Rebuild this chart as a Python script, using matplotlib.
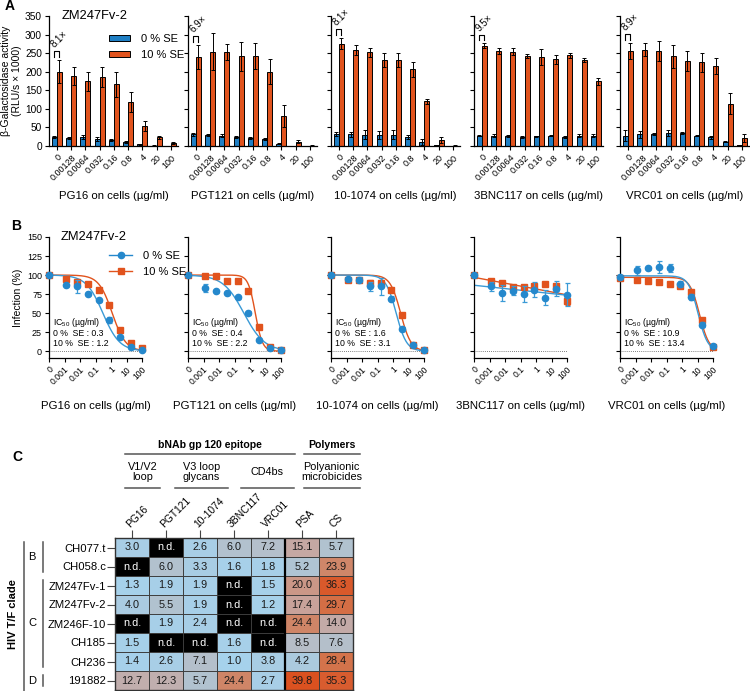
import numpy as np
import matplotlib
matplotlib.use("Agg")
import matplotlib.pyplot as plt
from matplotlib.lines import Line2D
from matplotlib.patches import Patch
from matplotlib.colors import LinearSegmentedColormap, LogNorm
import matplotlib.transforms as mtrans

plt.rcParams['font.family'] = ['Liberation Sans', 'DejaVu Sans']
plt.rcParams['mathtext.fontset'] = 'custom'
plt.rcParams['mathtext.rm'] = 'Liberation Sans'
plt.rcParams['axes.linewidth'] = 0.9

# ---------------- data ----------------
antibodies = ['PG16', 'PGT121', '10-1074', '3BNC117', 'VRC01']
conc_labels = ['0', '0.00128', '0.0064', '0.032', '0.16', '0.8', '4', '20', '100']
conc_vals = [0, 0.00128, 0.0064, 0.032, 0.16, 0.8, 4, 20, 100]

# Panel A: beta-galactosidase activity (RLU/s x 1000)
A_se0 = [[24, 21, 24, 18, 16, 11, 5, 1, 0],
         [32, 30, 28, 24, 22, 19, 6, 0.5, 0],
         [32, 31, 30, 29, 30, 24, 11, 2, 0.5],
         [28, 27, 27, 25, 26, 28, 25, 28, 28],
         [28, 31, 33, 36, 34, 28, 23, 12, 3]]
A_se0_err = [[3, 2, 5, 5, 2, 2, 1, 0.5, 0],
             [4, 3, 4, 3, 3, 3, 1, 0, 0],
             [6, 8, 12, 11, 12, 5, 8, 1, 0.5],
             [2, 4, 2, 3, 2, 2, 3, 3, 3],
             [14, 10, 3, 8, 3, 2, 4, 1, 1]]
A_se10 = [[200, 188, 174, 185, 166, 119, 54, 24, 8],
          [240, 254, 253, 241, 242, 200, 81, 12, 1],
          [275, 259, 252, 232, 232, 207, 120, 16, 1],
          [270, 257, 254, 242, 239, 233, 244, 231, 174],
          [256, 259, 256, 241, 228, 225, 216, 114, 22]]
A_se10_err = [[31, 25, 25, 27, 33, 27, 13, 4, 2],
              [32, 50, 21, 39, 36, 34, 29, 4, 1],
              [15, 13, 13, 18, 18, 20, 6, 8, 1],
              [6, 8, 10, 6, 21, 12, 6, 5, 10],
              [21, 18, 26, 30, 27, 25, 21, 29, 11]]
fold_labels = ['8.1×', '6.9×', '8.1×', '9.5×', '8.9×']

# Panel B: infection (%)
B_se0 = [[100, 86.5, 85, 75.5, 67, 40.5, 18, 6, 2],
         [100, 83, 79, 76, 71, 50, 14.5, 3.5, 1.5],
         [100, 94.5, 94, 85, 85, 69, 29, 8, 1],
         [100, 85.5, 76.5, 79.5, 75, 81, 70, 82, 74],
         [98, 106, 109, 111, 109, 88, 71, 35, 6.5]]
B_se0_err = [[0, 2, 8, 2, 2, 4, 2, 1, 1],
             [0, 5, 2, 2, 2, 3, 1.5, 1, 0.5],
             [0, 2, 3, 6, 11, 3, 3, 1, 0.5],
             [0, 6, 10, 6, 10, 10, 10, 10, 15],
             [1, 6, 2, 8, 5, 4, 4, 3, 1.5]]
B_se10 = [[100, 94.5, 91, 88.5, 81, 61, 27.5, 11, 4.5],
          [100, 98.5, 98.5, 92, 92, 79.5, 32, 5, 1],
          [100, 94, 93, 90, 89, 80, 47, 8, 1],
          [100, 92, 89.5, 84, 84, 86, 88, 85, 66.5],
          [96, 94, 92, 91, 88, 85, 78, 41.5, 6]]
B_se10_err = [[0, 2, 2, 2, 2, 2, 2, 1, 1],
              [0, 2, 2, 2, 3, 2, 2, 1, 0.5],
              [0, 2, 2, 3, 2, 2, 2, 1, 0.5],
              [0, 2, 2, 2, 2, 2, 2, 2, 6],
              [2, 2, 2, 2, 3, 2, 2, 2, 1]]
# fitted dose-response parameters (top, IC50, hill); None -> no sigmoid fit
ic50_se0 = [0.3, 0.4, 1.6, None, 10.9]
ic50_se10 = [1.2, 2.2, 3.1, None, 13.4]
hill_se0 = [0.8, 0.65, 1.3, None, 1.4]
hill_se10 = [1.0, 1.9, 1.3, None, 1.4]
top_se0 = [100, 100, 100, None, 99]
top_se10 = [100, 100, 100, None, 97]
# 3BNC117: no IC50, straight fit (value at lowest and highest concentration)
flat_fit_se0 = [86.6, 73.5]
flat_fit_se10 = [97, 74]

# Panel C: table
rows = ['CH077.t', 'CH058.c', 'ZM247Fv-1', 'ZM247Fv-2', 'ZM246F-10', 'CH185', 'CH236', '191882']
cols = ['PG16', 'PGT121', '10-1074', '3BNC117', 'VRC01', 'PSA', 'CS']
nan = np.nan
table_vals = [[3.0, nan, 2.6, 6.0, 7.2, 15.1, 5.7],
              [nan, 6.0, 3.3, 1.6, 1.8, 5.2, 23.9],
              [1.3, 1.9, 1.9, nan, 1.5, 20.0, 36.3],
              [4.0, 5.5, 1.9, nan, 1.2, 17.4, 29.7],
              [nan, 1.9, 2.4, nan, nan, 24.4, 14.0],
              [1.5, nan, nan, 1.6, nan, 8.5, 7.6],
              [1.4, 2.6, 7.1, 1.0, 3.8, 4.2, 28.4],
              [12.7, 12.3, 5.7, 24.4, 2.7, 39.8, 35.3]]
clades = [('B', 0, 1), ('C', 2, 6), ('D', 7, 7)]
# header groups: label, underline start / end (in column units)
header_top = [('bNAb gp 120 epitope', -0.2, 4.8), ('Polymers', 5.05, 6.7)]
header_sub = [('V1/V2\nloop', -0.2, 0.82), ('V3 loop\nglycans', 1.26, 2.82),
              ('CD4bs', 3.2, 4.75), ('Polyanionic\nmicrobicides', 5.05, 6.7)]

BLUE = '#1f7fc4'
ORANGE = '#e1531d'
W, H = 750, 691

fig = plt.figure(figsize=(7.5, 6.91), dpi=100)


def add_ax(l, t, r, b):
    return fig.add_axes([l / W, 1 - b / H, (r - l) / W, (b - t) / H])


def ytxt(ypx):
    return 1 - ypx / H


lefts = [49, 188, 331, 474, 620]

# ---------------- Panel A ----------------
x = np.arange(len(conc_labels))
bw = 0.35
for i, ab in enumerate(antibodies):
    ax = add_ax(lefts[i], 16, lefts[i] + 129, 146)
    ax.bar(x - bw / 2, A_se0[i], bw, color=BLUE, edgecolor='black', linewidth=0.7,
           yerr=A_se0_err[i], error_kw=dict(ecolor='black', elinewidth=0.7, capsize=1.2, capthick=0.7))
    ax.bar(x + bw / 2, A_se10[i], bw, color=ORANGE, edgecolor='black', linewidth=0.7,
           yerr=A_se10_err[i], error_kw=dict(ecolor='black', elinewidth=0.7, capsize=1.2, capthick=0.7))
    ax.set_xlim(-0.56, 8.5)
    ax.set_ylim(0, 350)
    ax.set_yticks(np.arange(0, 351, 50))
    ax.set_xticks(x)
    ax.set_xticklabels(conc_labels, rotation=45, ha='right', rotation_mode='anchor', fontsize=6.5)
    ax.tick_params(axis='both', length=3, width=0.8, pad=2)
    ax.tick_params(axis='y', labelsize=7.3)
    if i > 0:
        ax.set_yticklabels([])
    else:
        ax.set_ylabel('β-Galactosidase activity\n(RLU/s × 1000)', fontsize=7.5, labelpad=2, linespacing=1.1)
    ax.spines['top'].set_visible(False)
    ax.spines['right'].set_visible(False)
    ax.set_xlabel(f'{ab} on cells (µg/ml)', fontsize=8.2, labelpad=6)
    # fold bracket
    ytop = A_se10[i][0] + A_se10_err[i][0] + 24
    ax.plot([-bw / 2, -bw / 2, bw / 2, bw / 2], [ytop - 15, ytop, ytop, ytop - 15],
            color='black', lw=0.8, clip_on=False)
    ax.text(-0.1, ytop + 4, fold_labels[i], rotation=45, ha='left', va='bottom',
            fontsize=7, rotation_mode='anchor')
    if i == 0:
        ax.text(0.1, 350, 'ZM247Fv-2', fontsize=9.3, va='center', ha='left',
                transform=mtrans.blended_transform_factory(ax.transAxes, ax.transData))

fig.legend(handles=[Patch(facecolor=BLUE, edgecolor='black', linewidth=0.7, label='0 % SE'),
                    Patch(facecolor=ORANGE, edgecolor='black', linewidth=0.7, label='10 % SE')],
           loc='upper left', bbox_to_anchor=(109 / W, ytxt(34)), frameon=False, fontsize=8,
           handlelength=1.9, handleheight=0.45, handletextpad=1.0, labelspacing=0.55,
           borderaxespad=0, borderpad=0)

# ---------------- Panel B ----------------
ZERO_POS = 1e-4
xb = np.array([ZERO_POS] + conc_vals[1:])
xfit = np.logspace(-4, 2, 300)
for i, ab in enumerate(antibodies):
    ax = add_ax(lefts[i], 237, lefts[i] + 93, 358)
    ax.set_xscale('log')
    ax.set_xlim(ZERO_POS, 100)
    ax.set_ylim(-9, 150)
    ax.axhline(0, color='#555555', lw=0.6, ls=(0, (1, 1.5)))
    # fits
    if ic50_se0[i] is not None:
        y0 = top_se0[i] / (1 + (xfit / ic50_se0[i]) ** hill_se0[i])
        y1 = top_se10[i] / (1 + (xfit / ic50_se10[i]) ** hill_se10[i])
    else:
        lx = (np.log10(xfit) + 4) / 6
        y0 = flat_fit_se0[0] + (flat_fit_se0[1] - flat_fit_se0[0]) * lx
        y1 = flat_fit_se10[0] + (flat_fit_se10[1] - flat_fit_se10[0]) * lx
    ax.plot(xfit, y1, color=ORANGE, lw=1.0)
    ax.plot(xfit, y0, color='#3a9ad6', lw=1.0)
    ax.errorbar(xb, B_se10[i], yerr=B_se10_err[i], fmt='s', color=ORANGE, ms=4.2,
                elinewidth=0.9, capsize=1.8, capthick=0.9, clip_on=False, zorder=3)
    ax.errorbar(xb, B_se0[i], yerr=B_se0_err[i], fmt='o', color='#2588cc', ecolor='#3a9ad6',
                ms=4.5, elinewidth=0.9, capsize=1.8, capthick=0.9, clip_on=False, zorder=4)
    ax.set_xticks([1e-4, 1e-3, 1e-2, 1e-1, 1, 10, 100])
    ax.set_xticklabels(['0', '0.001', '0.01', '0.1', '1', '10', '100'], rotation=45,
                       ha='right', rotation_mode='anchor', fontsize=6.2)
    ax.set_yticks(np.arange(0, 151, 25))
    ax.tick_params(axis='both', which='major', length=3, width=0.8, pad=2)
    ax.tick_params(axis='x', which='minor', length=1.6, width=0.5)
    ax.tick_params(axis='y', labelsize=6.5)
    ax.spines['top'].set_visible(False)
    ax.spines['right'].set_visible(False)
    if i > 0:
        ax.set_yticklabels([])
    else:
        ax.set_ylabel('Infection (%)', fontsize=7.5, labelpad=3)
        ax.text(0.13, 150, 'ZM247Fv-2', fontsize=9.3, va='center', ha='left',
                transform=mtrans.blended_transform_factory(ax.transAxes, ax.transData))
    ax.set_xlabel(f'{ab} on cells (µg/ml)', fontsize=8.2, labelpad=10)
    if ic50_se0[i] is not None:
        tr = mtrans.blended_transform_factory(ax.transAxes, ax.transData)
        ax.text(0.04, 37, r'IC$_{\mathrm{50}}$ (µg/ml)', transform=tr, fontsize=6.3, va='center')
        ax.text(0.04, 23, f'0 %  SE : {ic50_se0[i]}', transform=tr, fontsize=6.3, va='center')
        ax.text(0.04, 10, f'10 %  SE : {ic50_se10[i]}', transform=tr, fontsize=6.3, va='center')

fig.legend(handles=[Line2D([0], [0], color='#2588cc', marker='o', ms=4.5, lw=1.0, label='0 % SE'),
                    Line2D([0], [0], color=ORANGE, marker='s', ms=4.2, lw=1.0, label='10 % SE')],
           loc='upper left', bbox_to_anchor=(109 / W, ytxt(251)), frameon=False, fontsize=8,
           handlelength=2.1, handletextpad=1.0, labelspacing=0.5, borderaxespad=0, borderpad=0)

# ---------------- Panel C ----------------
cmap = LinearSegmentedColormap.from_list('ic', [
    (0.00, '#a6d2ec'), (np.log(3.8) / np.log(40), '#a9cde4'),
    (np.log(5.5) / np.log(40), '#b1c3d0'), (np.log(8.5) / np.log(40), '#b6bec8'),
    (np.log(13) / np.log(40), '#c2aeac'), (np.log(17.5) / np.log(40), '#c8a39b'),
    (np.log(23) / np.log(40), '#ce8c72'), (np.log(29) / np.log(40), '#d4724a'),
    (1.00, '#db5120')])
norm = LogNorm(vmin=1, vmax=40)
tv = np.array(table_vals, dtype=float)
rgba = cmap(norm(np.nan_to_num(tv, nan=1.0)))
rgba[np.isnan(tv)] = (0, 0, 0, 1)

axc = add_ax(115, 538, 353, 690)
axc.imshow(rgba, aspect='auto', interpolation='nearest', extent=(-0.5, 6.5, 7.5, -0.5))
axc.set_xlim(-0.5, 6.5)
axc.set_ylim(7.5, -0.5)
for k in range(1, len(rows)):
    axc.axhline(k - 0.5, color='#3c3c3c', lw=0.7)
for k in range(1, len(cols)):
    axc.axvline(k - 0.5, color='#3c3c3c', lw=0.7)
axc.axvline(4.5, color='black', lw=1.6)
for s in axc.spines.values():
    s.set_linewidth(1.0)
    s.set_color('#333333')
for r in range(len(rows)):
    for c in range(len(cols)):
        v = tv[r, c]
        if np.isnan(v):
            axc.text(c, r, 'n.d.', ha='center', va='center', color='white', fontsize=7.8)
        else:
            axc.text(c, r, f'{v:.1f}', ha='center', va='center', color='#1a1a1a', fontsize=7.8)
axc.xaxis.tick_top()
axc.set_xticks(range(len(cols)))
axc.set_xticklabels([])
axc.set_yticks(range(len(rows)))
axc.set_yticklabels(rows, fontsize=8.1)
axc.tick_params(axis='both', length=5.5, width=0.8, pad=1, color='#444444')
for c, name in enumerate(cols):
    axc.annotate(name, xy=(c, -0.5), xycoords='data', xytext=(-0.5, 6.5), textcoords='offset points',
                 rotation=45, ha='left', va='bottom', rotation_mode='anchor', fontsize=7.4,
                 annotation_clip=False)

btr = mtrans.blended_transform_factory(axc.transData, fig.transFigure)
line_col = '#555555'
for name, x0, x1 in header_top:
    fig.add_artist(Line2D([x0, x1], [ytxt(454), ytxt(454)], transform=btr, color=line_col, lw=1.1))
    axc.text((x0 + x1) / 2, ytxt(445), name, transform=btr, ha='center', va='center',
             fontsize=7.6, fontweight='bold')
for name, x0, x1 in header_sub:
    fig.add_artist(Line2D([x0, x1], [ytxt(488), ytxt(488)], transform=btr, color=line_col, lw=1.1))
    axc.text((x0 + x1) / 2, ytxt(472), name, transform=btr, ha='center', va='center',
             fontsize=7.8, linespacing=1.0)

# clade grouping
ltr = mtrans.blended_transform_factory(fig.transFigure, axc.transData)
for name, r0, r1 in clades:
    fig.add_artist(Line2D([43 / W, 43 / W], [r0 - 0.3, r1 + 0.3], transform=ltr, color=line_col, lw=1.1))
    fig.text(32 / W, (r0 + r1) / 2, name, transform=ltr, fontsize=8, ha='center', va='center')
fig.add_artist(Line2D([24 / W, 24 / W], [-0.3, 7.6], transform=ltr, color=line_col, lw=1.1))
fig.text(13 / W, 3.5, 'HIV T/F clade', transform=ltr, rotation=90, ha='center', va='center',
         fontsize=8, fontweight='bold')

# panel letters
fig.text(5 / W, ytxt(6), 'A', fontsize=10, fontweight='bold', va='center')
fig.text(11 / W, ytxt(226), 'B', fontsize=10, fontweight='bold', va='center')
fig.text(12 / W, ytxt(457), 'C', fontsize=10, fontweight='bold', va='center')

fig.savefig('out.png', dpi=100)
